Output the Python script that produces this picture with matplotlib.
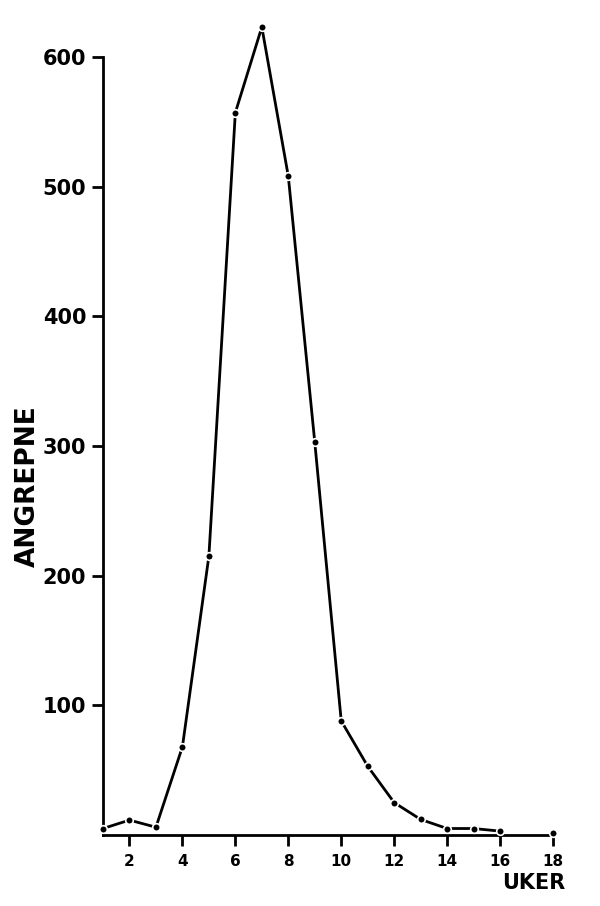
import matplotlib
matplotlib.use("Agg")
import matplotlib.pyplot as plt

weeks = [1, 2, 3, 4, 5, 6, 7, 8, 9, 10, 11, 12, 13, 14, 15, 16]
attacks = [5, 11.5, 6, 68, 215, 557, 623, 508, 303, 88, 53, 25, 12, 5, 5, 3]
extra_week = [18]
extra_attacks = [1.5]

x_ticks = [2, 4, 6, 8, 10, 12, 14, 16, 18]
y_ticks = [100, 200, 300, 400, 500, 600]

fig = plt.figure(figsize=(6, 9.06), dpi=100)
ax = fig.add_axes([103/600, 1-835/906, 450/600, 830/906])

style = dict(color="black", lw=2.0, marker="o", ms=5.5, mfc="black",
             mec="white", mew=1.2, clip_on=False, zorder=3)
ax.plot(weeks, attacks, **style)
ax.plot(extra_week, extra_attacks, ls="none", **{k: v for k, v in style.items() if k != "lw"})

ax.set_xlim(1, 18)
ax.set_ylim(0, 640)
for s in ["top", "right"]:
    ax.spines[s].set_visible(False)
ax.spines["left"].set_bounds(0, 600)
ax.spines["left"].set_linewidth(2)
ax.spines["bottom"].set_linewidth(2)

ax.set_xticks(x_ticks)
ax.set_xticklabels([str(t) for t in x_ticks], fontsize=11, fontweight="bold")
ax.set_yticks(y_ticks)
ax.set_yticklabels([str(t) for t in y_ticks], fontsize=15, fontweight="bold")
ax.tick_params(axis="x", direction="out", length=8, width=2, pad=6)
ax.tick_params(axis="y", direction="out", length=8, width=2, pad=4)

fig.text(28/600, 1-486/906, "ANGREPNE", rotation=90, fontsize=19,
         fontweight="bold", ha="center", va="center")
fig.text(565/600, 1-889/906, "UKER", fontsize=15, fontweight="bold",
         ha="right", va="baseline")

fig.savefig("out.png", dpi=100, facecolor="white")
